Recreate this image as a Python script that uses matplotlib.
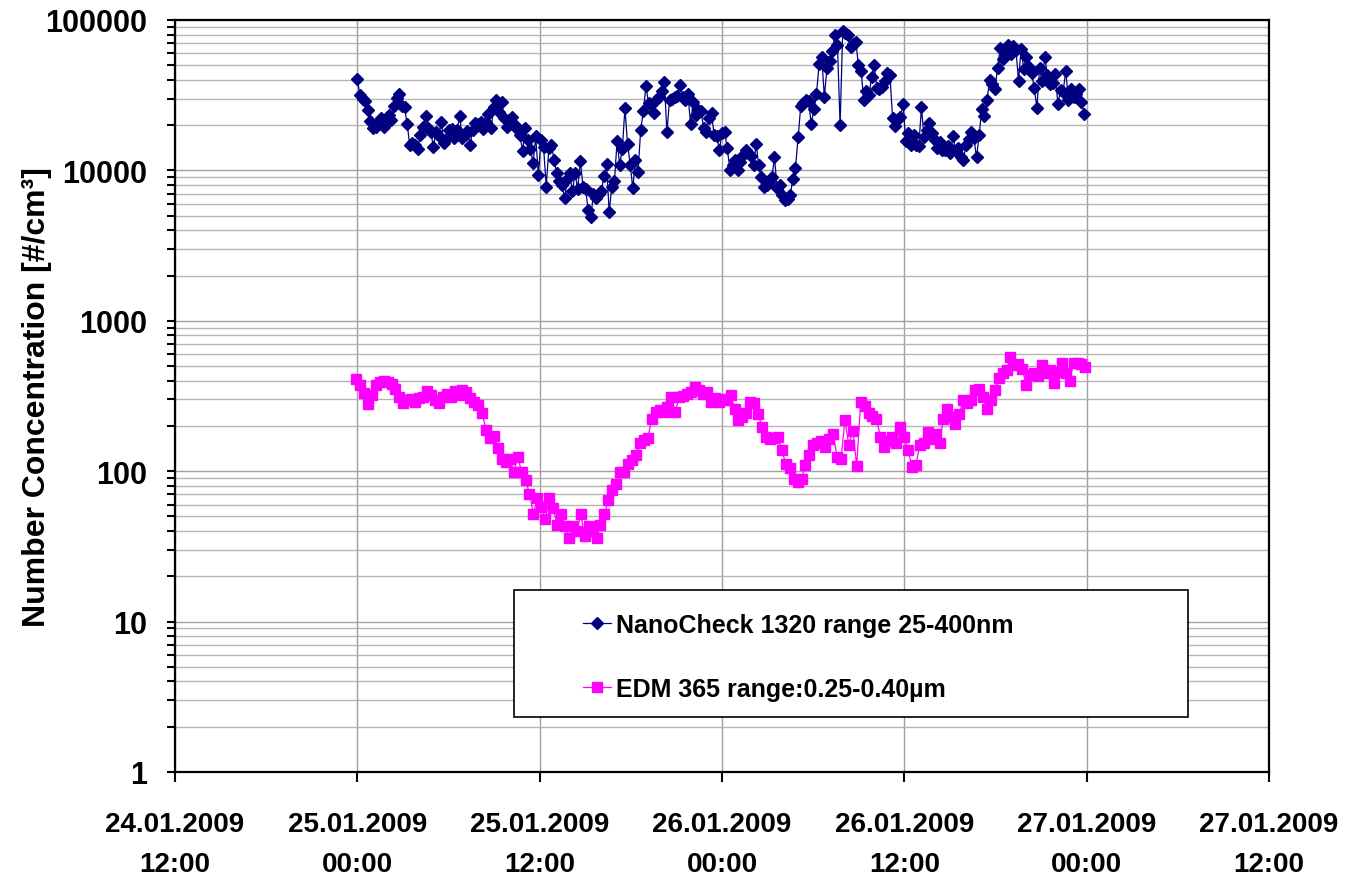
import matplotlib
matplotlib.use("Agg")
import numpy as np
import pandas as pd
import matplotlib.pyplot as plt
import matplotlib.dates as mdates
from matplotlib.patches import Rectangle
from matplotlib.ticker import FixedLocator, FuncFormatter, LogLocator, NullFormatter

# NanoCheck 1320 (25-400 nm), ~10 min samples, 25.01.2009 00:00 -> 26.01.2009 23:50
nano_values = [
    40600, 31800, 30000, 28800, 25300, 21200, 19100, 19500, 20600, 22300, 19500, 21200,
    23400, 21500, 26600, 30300, 32200, 27000, 26200, 20300, 14700, 15200, 14700, 13900,
    17100, 19500, 22900, 19100, 17900, 14400, 18000, 16800, 21000, 15200, 16500, 18600,
    18800, 16500, 18600, 22900, 16500, 17100, 18300, 14800, 18600, 20600, 20300, 21000,
    18800, 21000, 23700, 19100, 26200, 29500, 24400, 28400, 22300, 19300, 21700, 22500,
    20100, 18800, 17100, 13500, 19100, 15900, 13900, 11200, 16800, 9340, 15900, 14200,
    7810, 14000, 14700, 11700, 9570, 8510, 7960, 6530, 8700, 9570, 7240, 9570,
    7500, 11600, 7810, 7500, 5460, 4930, 6950, 6600, 6950, 7240, 9200, 11000,
    5270, 7810, 8460, 15600, 10900, 13900, 25900, 15000, 10900, 7600, 11700, 9820,
    18600, 24700, 36200, 27900, 27300, 24000, 29500, 30600, 33500, 38600, 17900, 29500,
    30000, 30600, 31200, 37100, 30600, 29500, 32400, 20300, 28700, 23400, 25300, 24700,
    19100, 17900, 22300,
    24000, 17200, 16900, 13700, 17700, 18100, 14000, 10100, 10800, 11700, 10100, 11400,
    12700, 13700, 13000, 12400, 10800, 14900, 10800, 8980, 7810, 7970, 8400, 8980,
    12200, 7600, 7970, 6880, 6360, 6500, 6880, 8730, 10400, 16600, 26600, 28000,
    29500, 28800, 20300, 25600, 32200, 50900, 56500, 30900, 48100, 53100, 62600, 79800,
    67800, 19900, 84900, 81900, 79800, 65800, 69500, 71000, 50400, 46100, 29500, 33800,
    31800, 41500, 49900, 35400, 34700, 36100, 39100, 44400, 42900, 22300, 19600, 21800,
    22800, 27600, 15700, 17600, 14700, 17200, 14800, 14500, 26200, 16700, 18500, 20800,
    17600, 16000, 14100, 15500, 13700, 13700, 14500, 13000, 16900, 13500, 14100, 12200,
    11800, 14800, 16200, 18000, 16400, 12200, 17200, 25600, 22900, 29500, 40000, 37300,
    34700, 47900, 65000, 55300, 59000, 67800, 59000, 66700, 63500, 39500, 64300, 47000,
    56500, 49000, 44400, 35400, 25900, 48000, 39100, 56500, 42900, 37300, 38200, 43900,
    27600, 34000, 33300, 46000, 29500, 34700, 30900, 32200, 34700, 28600, 23700,
]

# EDM 365 (0.25-0.40 um)
edm_values = [
    409, 373, 329, 278, 320, 373, 393, 395, 389, 380, 351, 313, 282, 297, 300, 287,
    305, 313, 341, 320, 297, 282, 313, 327, 313, 341, 320, 345, 337, 307, 290, 275,
    242, 187, 165, 172, 143, 121, 115, 121, 99, 125, 99, 87, 71, 52, 66, 58,
    48, 66, 57, 44, 52, 43, 36, 43, 40, 52, 37, 43, 40, 36, 44, 52,
    64, 75, 82, 99, 99, 112, 118, 128, 153, 160, 165, 224, 248, 255, 248, 268,
    313, 248, 313, 316, 327, 337, 364, 345, 327, 337, 290, 305,
    290, 303, 297, 320, 261, 218, 228, 245, 290, 285, 240, 197, 169, 163, 166, 169,
    138, 112, 105, 89, 85, 89, 110, 128, 149, 154, 158, 144, 163, 178, 125, 120,
    218, 149, 186, 109, 290, 270, 245, 233, 224, 169, 145, 158, 169, 154, 197, 169,
    138, 107, 110, 149, 154, 183, 163, 178, 154, 224, 261, 228, 207, 240, 297, 285,
    297, 346, 352, 313, 261, 297, 346, 414, 447, 470, 577, 507, 515, 477, 373, 436,
    452, 428, 507, 452, 470, 386, 460, 523, 452, 398, 523, 523, 515, 493,
]

nano_times = pd.date_range("2009-01-25 00:00", "2009-01-26 23:50", periods=len(nano_values))
edm_times = pd.date_range("2009-01-24 23:55", "2009-01-26 23:55", periods=len(edm_values))

tick_times = pd.date_range("2009-01-24 12:00", "2009-01-27 12:00", freq="12h")
y_ticks = [1, 10, 100, 1000, 10000, 100000]

plt.rcParams["font.family"] = ["Liberation Sans", "DejaVu Sans"]
plt.rcParams["font.weight"] = "bold"

fig = plt.figure(figsize=(13.51, 8.78), dpi=100)
ax = fig.add_axes([0.1295, 0.1196, 0.8098, 0.8565])

ax.plot(nano_times, nano_values, color="#000080", lw=0.9, marker="D", ms=6.5,
        mec="#000080", mfc="#000080", label="NanoCheck 1320 range 25-400nm", zorder=3)
ax.plot(edm_times, edm_values, color="#FF00FF", lw=0.9, marker="s", ms=7,
        mec="#FF00FF", mfc="#FF00FF", label="EDM 365 range:0.25-0.40µm", zorder=3)

ax.set_yscale("log")
ax.set_ylim(1, 100000)
ax.yaxis.set_major_locator(FixedLocator(y_ticks))
ax.yaxis.set_major_formatter(FuncFormatter(lambda v, p: f"{v:.0f}"))
ax.yaxis.set_minor_locator(LogLocator(base=10, subs=np.arange(2, 10)))
ax.yaxis.set_minor_formatter(NullFormatter())

ax.set_xlim(tick_times[0], tick_times[-1])
ax.xaxis.set_major_locator(FixedLocator(mdates.date2num(tick_times)))
ax.xaxis.set_major_formatter(mdates.DateFormatter("%d.%m.%Y\n%H:%M"))

ax.grid(True, which="major", color="#a0a0a0", lw=1.0)
ax.grid(True, which="minor", axis="y", color="#b4b4b4", lw=1.0)
ax.set_axisbelow(True)

for sp in ax.spines.values():
    sp.set_linewidth(1.6)
    sp.set_color("black")

ax.tick_params(axis="both", which="major", direction="out", width=1.5)
ax.tick_params(axis="x", which="major", length=7, pad=21, labelsize=20)
ax.tick_params(axis="y", which="major", length=6, pad=14, labelsize=22)
ax.tick_params(axis="y", which="minor", direction="out", length=6, width=1.5)

ax.set_ylabel("Number Concentration [#/cm³]", fontsize=23, fontweight="bold")
ax.yaxis.set_label_coords(-0.1125, 0.5)

box = Rectangle((0.310, 0.073), 0.616, 0.169, transform=ax.transAxes,
                facecolor="white", edgecolor="black", lw=1.2, zorder=4)
ax.add_patch(box)
leg = ax.legend(loc="upper left", bbox_to_anchor=(0.373, 0.2115), frameon=False,
                borderpad=0, borderaxespad=0, handlelength=1.12, handletextpad=0.2,
                labelspacing=1.6, prop={"weight": "bold", "size": 18})
leg.set_zorder(5)

fig.canvas.draw()
for lbl in ax.get_xticklabels():
    lbl.set_linespacing(1.7)

fig.savefig("out.png", dpi=100)
